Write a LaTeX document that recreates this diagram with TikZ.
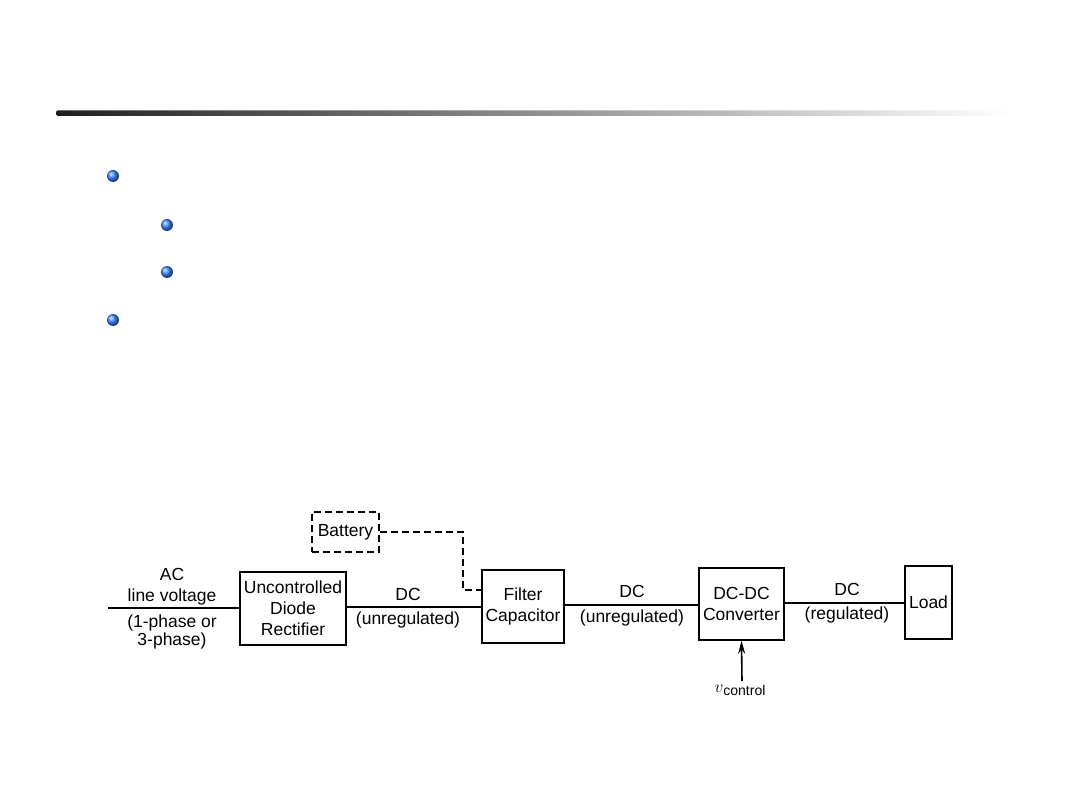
\documentclass[tikz,border=0pt]{standalone}
\usepackage{fontspec}
\setmainfont{Liberation Sans}
\usetikzlibrary{arrows.meta}
\definecolor{bulblue}{HTML}{3F86FF}
\begin{document}
\begin{tikzpicture}[x=1pt,y=-1pt,
  blk/.style={draw, line width=1.6pt, inner sep=0pt, align=center, font=\fontsize{17.5}{21}\selectfont},
  lbl/.style={inner sep=0pt, align=center, font=\fontsize{17.5}{21}\selectfont},
  wire/.style={line width=2pt},
  dwire/.style={line width=1.8pt, dash pattern=on 7pt off 4pt},
  bul/.style={ball color=bulblue}]
\useasboundingbox (0,0) rectangle (1080,810);
% title rule
\shade[left color=black!88, right color=white, rounded corners=1.5pt] (56,110.5) rectangle (1012,116);
% bullets
\shade[bul] (113,176) circle (6);
\shade[bul] (167,225) circle (6);
\shade[bul] (167,272) circle (6);
\shade[bul] (113,320) circle (6);
% blocks
\node[blk, minimum width=106pt, minimum height=73pt] (rect) at (293,608.5) {Uncontrolled\\Diode\\Rectifier};
\node[blk, minimum width=82pt, minimum height=73pt] (filt) at (523,606.5) {Filter\\Capacitor};
\node[blk, minimum width=85pt, minimum height=72pt] (conv) at (741.5,604) {DC-DC\\Converter};
\node[blk, minimum width=47pt, minimum height=73pt] (load) at (928.5,602.5) {Load};
\node[blk, dash pattern=on 7pt off 4pt, minimum width=67pt, minimum height=40pt] (bat) at (345.5,532) {Battery};
% wires
\coordinate (in) at (108,608);
\draw[wire] (in) -- (rect.west |- in);
\draw[wire] (rect.east |- 0,607) -- (filt.west |- 0,607);
\draw[wire] (filt.east |- 0,605) -- (conv.west |- 0,605);
\draw[wire] (conv.east |- 0,603) -- (load.west |- 0,603);
\coordinate (bk) at (463,532);
\draw[dwire] (bat.east) -- (bk) -- (463,590) -- (filt.west |- 0,590);
\coordinate (vc) at (742,681);
\draw[line width=1.6pt, -{Stealth[length=13pt,width=7pt]}] (vc) -- (conv.south);
% labels
\node[lbl] (acl) at (172,586.5) {AC\\line voltage};
\node[lbl, font=\fontsize{17.5}{18}\selectfont] (acb) at (172,632) {(1-phase or\\3-phase)};
\node[lbl] (dc1) at (408,594) {DC};
\node[lbl] (un1) at (408,620) {(unregulated)};
\node[lbl] (dc2) at (632,591) {DC};
\node[lbl] (un2) at (632,618) {(unregulated)};
\node[lbl] (dc3) at (847,589) {DC};
\node[lbl] (reg) at (847,615) {(regulated)};
\node[lbl] (vct) at (740,690) {\fontsize{19}{21}\selectfont$v$\fontsize{14}{16}\selectfont\raisebox{-3pt}{control}};
\end{tikzpicture}
\end{document}
